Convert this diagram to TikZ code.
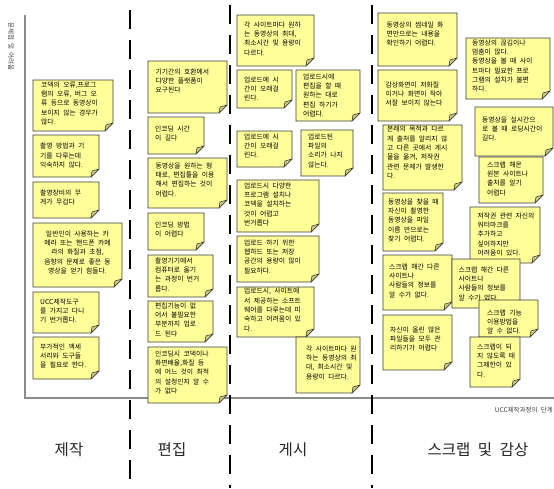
\documentclass[tikz,border=0pt]{standalone}
\usepackage{fontspec}
\setmainfont[WordSpace=2.2]{Noto Sans CJK KR}
\definecolor{noteyellow}{HTML}{FFFF99}
\definecolor{notefoldc}{HTML}{CDCD7A}
\definecolor{noteedge}{HTML}{3C3C3C}
\definecolor{axisgray}{HTML}{8C8C8C}
\tikzset{
  notebody/.style={fill=noteyellow, draw=noteedge, line width=0.8pt, line join=miter},
  notefoldst/.style={fill=notefoldc, draw=noteedge, line width=0.6pt, line join=round},
  notetext/.style={anchor=north west, inner sep=0pt, align=left, text=black,
                   font=\fontsize{6.8}{9.3}\selectfont},
  phaseline/.style={line width=2.6pt, black, dash pattern=on 19pt off 11pt},
  axisline/.style={draw=axisgray, line width=1.3pt},
  phaselabel/.style={inner sep=0pt, text=black!85, font=\fontsize{15.5}{18}\selectfont},
  axislabel/.style={inner sep=0pt, text=black!75, font=\fontsize{6.5}{8}\selectfont}
}
% [text node options]{name}{x1}{y1}{x2}{y2}{dx}{dy}{text}   (pixel coords, y downward)
\newcommand\stickynote[9][]{%
  \filldraw[notebody] (#3,-#4) -- (#5,-#4) -- (#5,-#6+8) -- (#5-8,-#6) -- (#3,-#6) -- cycle;
  \filldraw[notefoldst] (#5,-#6+8) -- (#5-8,-#6) -- (#5-7,-#6+6) -- cycle;
  \node[notetext,#1] (#2) at (#3+#7,-#4-#8) {#9};
}
\begin{document}
\begin{tikzpicture}[x=1pt,y=1pt]
\fill[white] (0,0) rectangle (554,-488);
\useasboundingbox (0,0) rectangle (554,-488);

% axes
\coordinate (axtop) at (25,-15);
\coordinate (axorigin) at (25,-398);
\coordinate (axright) at (554,-398);
\draw[axisline] (axtop) -- (axorigin) -- (axright);
\node[axislabel, rotate=-90] (ylab) at (11,-46.5) {문제점 및 어려움};
\node[axislabel, anchor=east] (xlab) at (553,-410.5) {UCC제작과정의 단계};

% phase separators
\coordinate (d1t) at (130,0);   \coordinate (d1b) at (130,-488);
\coordinate (d2t) at (230,0);   \coordinate (d2b) at (230,-488);
\coordinate (d3t) at (372,0);   \coordinate (d3b) at (372,-488);
\draw[phaseline, dash phase=20pt] (d1t) -- (d1b);
\draw[phaseline, dash phase=25pt] (d2t) -- (d2b);
\draw[phaseline, dash phase=25pt] (d3t) -- (d3b);

% phase labels
\node[phaselabel] (p1) at (69,-450) {제작};
\node[phaselabel] (p2) at (172,-450) {편집};
\node[phaselabel] (p3) at (293,-450) {게시};
\node[phaselabel] (p4) at (478,-450) {스크랩 및 감상};

% column 1: 제작
\stickynote{n1}{33}{80}{113}{131}{8}{1.5}{코덱의 오류,프로그\\램의 오류, 버그 오\\류 등으로 동영상이\\보이지 않는 경우가\\많다.}
\stickynote{n2}{33}{135}{99}{177}{7}{8}{촬영 방법과 기\\기를 다루는데\\익숙하지 않다.}
\stickynote{n3}{33}{182}{99}{218}{7}{7.5}{촬영장비의 무\\게가 무겁다}
\stickynote[anchor=north, align=center]{n4}{33}{223}{122}{287}{44.5}{7.5}{일반인이 사용하는 카\\메라 또는 핸드폰 카메\\라의 화질과 초점,\\음향의 문제로 좋은 동\\영상을 얻기 힘들다.}
\stickynote{n5}{33}{292}{99}{333}{7}{6.5}{UCC제작도구\\를 가지고 다니\\기 번거롭다.}
\stickynote{n6}{33}{337}{99}{379}{7}{6.5}{부가적인 액세\\서리와 도구들\\을 필요로 한다.}

% column 2: 편집
\stickynote{m1}{148}{61}{227}{113}{7.5}{7.5}{기기간의 호환에서\\다양한 플랫폼이\\요구된다}
\stickynote{m2}{148}{117}{204}{154}{7}{8.5}{인코딩 시간\\이 길다}
\stickynote{m3}{148}{158}{227}{208}{7.5}{4.5}{동영상을 원하는 형\\태로, 편집툴을 이용\\해서 편집하는 것이\\어렵다.}
\stickynote{m4}{148}{213}{204}{250}{7}{8.5}{인코딩 방법\\이 어렵다}
\stickynote{m5}{148}{255}{213}{297}{7}{2.5}{촬영기기에서\\컴퓨터로 옮기\\는 과정이 번거\\롭다.}
\stickynote{m6}{148}{301}{213}{342}{7}{1.5}{편집기능이 없\\어서 불필요한\\부분까지 업로\\드 된다}
\stickynote{m7}{148}{347}{227}{403}{7}{3.5}{인코딩시 코덱이나\\화면배율,화질 등\\에 어느 것이 최적\\의 설정인지 알 수\\가 없다}

% column 3: 게시
\stickynote{g1}{237}{15}{314}{66}{7}{6.5}{각 사이트마다 원하\\는 동영상의 최대,\\최소시간 및 용량이\\다르다.}
\stickynote{g2}{237}{70}{292}{108}{7}{6.5}{업로드에 시\\간이 오래걸\\린다.}
\stickynote{g3}{296}{70}{360}{121}{7}{3.5}{업로드시에\\편집을 할 때\\원하는 대로\\편집 하기가\\어렵다.}
\stickynote{g4}{237}{131}{292}{167}{7}{2.5}{업로드에 시\\간이 오래걸\\린다.}
\stickynote{g5}{301}{130}{353}{176}{7}{3.5}{업로드된\\파일의\\소리가 나지\\않는다.}
\stickynote{g6}{237}{180}{319}{232}{7}{2.5}{업로드시 다양한\\프로그램 설치나\\코덱을 설치하는\\것이 어렵고\\번거롭다}
\stickynote{g7}{237}{236}{319}{282}{7}{3.5}{업로드 하기 위한\\웹하드 또는 저장\\공간의 용량이 많이\\필요하다.}
\stickynote{g8}{237}{287}{314}{337}{7}{1}{업로드시, 사이트에\\서 제공하는 소프트\\웨어를 다루는데 미\\숙하고 어려움이 있\\다.}
\stickynote{g9}{296}{337}{360}{393}{10}{8.5}{각 사이트마다 원\\하는 동영상의 최\\대, 최소시간 및\\용량이 다르다.}

% column 4: 스크랩 및 감상
\stickynote{s1}{378}{13}{457}{66}{8.5}{8.5}{동영상의 썸네일 화\\면만으로는 내용을\\확인하기 어렵다.}
\stickynote{s2}{378}{70}{457}{121}{7.5}{11.5}{감상화면이 저화질\\이거나 화면이 작아\\서잘 보이지 않는다}
\stickynote{s3}{383}{125}{462}{190}{4}{1}{본래의 목적과 다르\\게 출처를 알리지 않\\고 다른 곳에서 게시\\물을 옮겨, 저작권\\관련 문제가 발생한\\다.}
\stickynote{s4}{383}{193}{443}{251}{5}{5.5}{동영상을 찾을 때\\자신이 촬영한\\동영상을 파일\\이름 만으로는\\찾기 어렵다.}
\stickynote{s5}{383}{255}{452}{310}{6}{8.5}{스크랩 해간 다른\\사이트나\\사람들의 정보를\\알 수가 없다.}
\stickynote{s7}{383}{315}{452}{370}{7}{11.5}{자신이 올린 많은\\파일들을 모두 관\\리하기가 어렵다}

\stickynote{r1}{466}{38}{550}{99}{6}{1.5}{동영상의 끊김이나\\멈춤이 많다.\\동영상을 볼 때 사이\\트마다 필요한 프로\\그램의 설치가 불편\\하다.}
\stickynote{r2}{475}{107}{553}{156}{7}{9.5}{동영상을 실시간으\\로 볼 때 로딩시간이\\길다.}
\stickynote{r3}{479}{157}{543}{203}{8}{4.5}{스크랩 해온\\원본 사이트나\\출처를 알기\\어렵다}
\stickynote{r4}{470}{207}{540}{263}{7.5}{5.5}{저작권 관련 자신의\\워터마크를\\추가하고\\싶어하지만\\어려움이 있다.}
\stickynote{s6}{452}{259}{520}{308}{6.5}{7.5}{스크랩 해간 다른\\사이트나\\사람들의 정보를\\알 수가 없다.}
\stickynote{r6}{479}{300}{538}{337}{8}{9.5}{스크랩 기능\\이용방법을\\알 수 없다.}
\stickynote{r7}{470}{337}{520}{387}{7}{6.5}{스크랩이 되\\지 않도록 태\\그제한이 있\\다.}
\end{tikzpicture}
\end{document}
